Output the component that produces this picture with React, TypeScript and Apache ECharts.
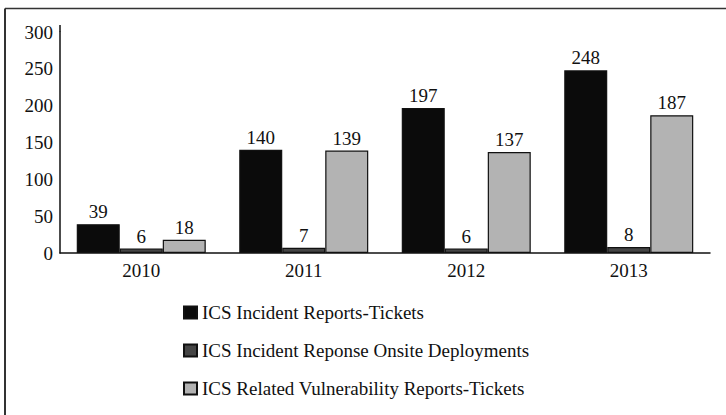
import React, { useEffect, useRef } from "react";
import * as echarts from "echarts";

const years = ["2010", "2011", "2012", "2013"];
const incidentTickets = [39, 140, 197, 248];
const onsiteDeployments = [6, 7, 6, 8];
const vulnTickets = [18, 139, 137, 187];
const seriesNames = [
  "ICS Incident Reports-Tickets",
  "ICS Incident Reponse Onsite Deployments",
  "ICS Related Vulnerability Reports-Tickets",
];
const yTicks = [0, 50, 100, 150, 200, 250, 300];

const FONT = "Liberation Serif";

export default function App() {
  const ref = useRef<HTMLDivElement>(null);
  useEffect(() => {
    if (!ref.current) return;
    const chart = echarts.init(ref.current, undefined, { renderer: "svg" });
    const colors = ["#0b0b0b", "#454545", "#b3b3b3"];
    const datasets = [incidentTickets, onsiteDeployments, vulnTickets];
    chart.setOption({
      animation: false,
      backgroundColor: "#ffffff",
      textStyle: { fontFamily: FONT },
      grid: { left: 60, right: 16, top: 32, bottom: 162, containLabel: false },
      legend: {
        orient: "vertical",
        left: 183,
        top: 302,
        padding: 0,
        itemWidth: 13,
        itemHeight: 12,
        itemGap: 17,
        icon: "rect",
        textStyle: { fontFamily: FONT, fontSize: 19, color: "#111", lineHeight: 21 },
        data: seriesNames,
      },
      xAxis: {
        type: "category",
        data: years,
        axisLine: { lineStyle: { color: "#111", width: 1.5 } },
        axisTick: { show: false },
        axisLabel: { fontFamily: FONT, fontSize: 19, color: "#111", margin: 8 },
      },
      yAxis: {
        type: "value",
        min: yTicks[0],
        max: yTicks[yTicks.length - 1],
        interval: 50,
        axisLine: { show: true, lineStyle: { color: "#111", width: 1.5 } },
        axisTick: { show: false },
        splitLine: { show: false },
        axisLabel: { fontFamily: FONT, fontSize: 19, color: "#111", margin: 7 },
      },
      graphic: [
        { type: "line", shape: { x1: 5, y1: 8.5, x2: 726, y2: 8.5 }, style: { stroke: "#333", lineWidth: 1.5 } },
        { type: "line", shape: { x1: 5, y1: 8.5, x2: 5, y2: 415 }, style: { stroke: "#333", lineWidth: 2 } },
        { type: "line", shape: { x1: 60, y1: 25, x2: 60, y2: 32 }, style: { stroke: "#111", lineWidth: 1.5 } },
      ],
      series: datasets.map((d, i) => ({
        name: seriesNames[i],
        type: "bar",
        data: d,
        barWidth: 43,
        barGap: "0%",
        itemStyle: { color: colors[i], borderColor: "#111", borderWidth: 1.2 },
        label: {
          show: true,
          position: "top",
          distance: 3,
          fontFamily: FONT,
          fontSize: 19,
          color: "#111",
        },
      })),
    });
    return () => chart.dispose();
  }, []);
  return (
    <div
      ref={ref}
      style={{ position: "absolute", left: 0, top: 0, width: 726, height: 415, background: "#fff" }}
    />
  );
}
